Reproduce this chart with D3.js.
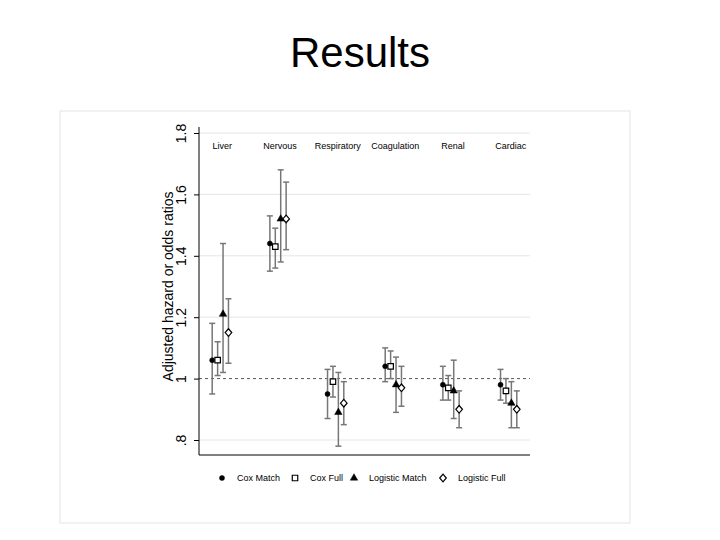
<!DOCTYPE html>
<html lang="en">
<head>
<meta charset="utf-8">
<title>Results</title>
<script src="https://d3js.org/d3.v7.min.js"></script>
<style>
  body { margin: 0; background: #fff; font-family: "Liberation Sans", Arial, sans-serif; }
  svg text { fill: #000; }
</style>
</head>
<body>
<div id="chart"></div>
<script>
// ---- data ----
var categories = ["Liver", "Nervous", "Respiratory", "Coagulation", "Renal", "Cardiac"];
var seriesNames = ["Cox Match", "Cox Full", "Logistic Match", "Logistic Full"];

// point estimates per series, in category order
var coxMatch      = [1.06, 1.44, 0.95, 1.04, 0.98, 0.98];
var coxFull       = [1.06, 1.43, 0.99, 1.04, 0.97, 0.96];
var logisticMatch = [1.21, 1.52, 0.89, 0.98, 0.96, 0.92];
var logisticFull  = [1.15, 1.52, 0.92, 0.97, 0.90, 0.90];

// lower / upper confidence limits
var coxMatchLo      = [0.95, 1.35, 0.87, 0.99, 0.93, 0.93];
var coxMatchHi      = [1.18, 1.53, 1.03, 1.10, 1.04, 1.03];
var coxFullLo       = [1.01, 1.36, 0.94, 1.00, 0.93, 0.92];
var coxFullHi       = [1.12, 1.49, 1.04, 1.09, 1.01, 1.00];
var logisticMatchLo = [1.02, 1.38, 0.78, 0.89, 0.87, 0.84];
var logisticMatchHi = [1.44, 1.68, 1.02, 1.07, 1.06, 0.99];
var logisticFullLo  = [1.05, 1.42, 0.85, 0.91, 0.84, 0.84];
var logisticFullHi  = [1.26, 1.64, 0.99, 1.04, 0.96, 0.96];

var yTicks = [0.8, 1, 1.2, 1.4, 1.6, 1.8];
var yTickLabels = [".8", "1", "1.2", "1.4", "1.6", "1.8"];

var series = [
  { name: seriesNames[0], est: coxMatch,      lo: coxMatchLo,      hi: coxMatchHi,      shape: "circle" },
  { name: seriesNames[1], est: coxFull,       lo: coxFullLo,       hi: coxFullHi,       shape: "square" },
  { name: seriesNames[2], est: logisticMatch, lo: logisticMatchLo, hi: logisticMatchHi, shape: "triangle" },
  { name: seriesNames[3], est: logisticFull,  lo: logisticFullLo,  hi: logisticFullHi,  shape: "diamond" }
];

var width = 720, height = 540;
// plot area edges (avoid the name "top", it clashes with window.top)
var plotLeft = 199, plotRight = 530, plotTop = 127, plotBottom = 455;

var svg = d3.select("#chart").append("svg")
  .attr("width", width)
  .attr("height", height);

// slide title
svg.append("text")
  .attr("x", 360).attr("y", 67)
  .attr("text-anchor", "middle")
  .style("font-size", "42px")
  .text("Results");

// light frame around the graph
svg.append("rect")
  .attr("x", 60).attr("y", 111)
  .attr("width", 570).attr("height", 412)
  .attr("fill", "none")
  .attr("stroke", "#e4e4e4");

var x = d3.scalePoint()
  .domain(categories)
  .range([plotLeft, plotRight])
  .padding(0.37);

var y = d3.scaleLinear()
  .domain([0.8, 1.8])
  .range([440, 133]);

var offset = x.step() * 0.094;

// gridlines
svg.selectAll("line.grid")
  .data(yTicks.filter(function(d) { return d !== 1; }))
  .enter().append("line")
  .attr("class", "grid")
  .attr("x1", plotLeft).attr("x2", plotRight)
  .attr("y1", function(d) { return y(d); })
  .attr("y2", function(d) { return y(d); })
  .attr("stroke", "#e6e6e6");

// reference line at 1
svg.append("line")
  .attr("x1", plotLeft).attr("x2", plotRight)
  .attr("y1", y(1)).attr("y2", y(1))
  .attr("stroke", "#555")
  .attr("stroke-dasharray", "3,3");

// y axis
var yAxis = d3.axisLeft(y)
  .tickValues(yTicks)
  .tickFormat(function(d, i) { return yTickLabels[i]; })
  .tickSize(5)
  .tickPadding(4);

var ga = svg.append("g")
  .attr("transform", "translate(" + plotLeft + ",0)")
  .call(yAxis);
ga.select(".domain").remove();
ga.selectAll(".tick line").attr("stroke", "#000");
ga.selectAll(".tick text")
  .attr("x", 0).attr("y", 0)
  .attr("dy", 0)
  .attr("text-anchor", "middle")
  .attr("transform", "translate(-13,0) rotate(-90)")
  .style("font-size", "14px")
  .style("font-family", "'Liberation Sans', Arial, sans-serif")
  .attr("fill", "#000");

svg.append("line")
  .attr("x1", plotLeft).attr("x2", plotLeft)
  .attr("y1", plotTop).attr("y2", plotBottom)
  .attr("stroke", "#000");
svg.append("line")
  .attr("x1", plotLeft).attr("x2", plotRight)
  .attr("y1", plotBottom).attr("y2", plotBottom)
  .attr("stroke", "#000");

// axis title
svg.append("text")
  .attr("transform", "translate(173," + y(1.3) + ") rotate(-90)")
  .attr("text-anchor", "middle")
  .style("font-size", "14px")
  .text("Adjusted hazard or odds ratios");

// category labels along the top
svg.selectAll("text.cat")
  .data(categories)
  .enter().append("text")
  .attr("class", "cat")
  .attr("x", function(d) { return x(d) + 2; })
  .attr("y", 149)
  .attr("text-anchor", "middle")
  .style("font-size", "9px")
  .attr("fill", "#333")
  .text(function(d) { return d; });

var symbolType = {
  circle: d3.symbolCircle,
  square: d3.symbolSquare,
  triangle: d3.symbolTriangle
};
var symbolSize = { circle: 20, square: 30, triangle: 24 };

function drawMarker(g, shape, cx, cy) {
  var hollow = (shape === "square" || shape === "diamond");
  var d;
  if (shape === "diamond") {
    d = "M0,-3.8L3.3,0L0,3.8L-3.3,0Z";
  } else {
    d = d3.symbol().type(symbolType[shape]).size(symbolSize[shape])();
  }
  g.append("path")
    .attr("d", d)
    .attr("transform", "translate(" + cx + "," + cy + ")")
    .attr("fill", hollow ? "#fff" : "#000")
    .attr("stroke", "#000")
    .attr("stroke-width", hollow ? 1.2 : 0.5);
}

var cap = 3;
series.forEach(function(s, si) {
  var g = svg.append("g");
  categories.forEach(function(c, ci) {
    var cx = x(c) + (si - 1.5) * offset;
    var ylo = y(s.lo[ci]), yhi = y(s.hi[ci]);
    g.append("line")
      .attr("x1", cx).attr("x2", cx)
      .attr("y1", ylo).attr("y2", yhi)
      .attr("stroke", "#777").attr("stroke-width", 1.5);
    [ylo, yhi].forEach(function(yy) {
      g.append("line")
        .attr("x1", cx - cap).attr("x2", cx + cap)
        .attr("y1", yy).attr("y2", yy)
        .attr("stroke", "#777").attr("stroke-width", 1.5);
    });
  });
  categories.forEach(function(c, ci) {
    var cx = x(c) + (si - 1.5) * offset;
    drawMarker(g, s.shape, cx, y(s.est[ci]));
  });
});

// legend
var legendX = [222, 295, 354, 443];
var legend = svg.append("g");
series.forEach(function(s, i) {
  drawMarker(legend, s.shape, legendX[i], 478);
  legend.append("text")
    .attr("x", legendX[i] + 15)
    .attr("y", 481)
    .style("font-size", "9px")
    .attr("fill", "#333")
    .text(s.name);
});
</script>
</body>
</html>
